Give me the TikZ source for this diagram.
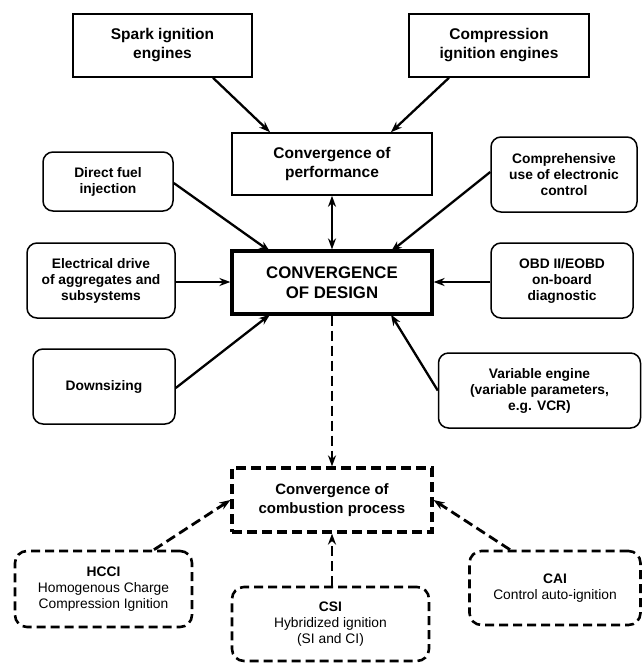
\documentclass[tikz,border=0pt]{standalone}
\usepackage{fontspec}
\setmainfont{Liberation Sans}
\usetikzlibrary{arrows.meta}
\begin{document}
\begin{tikzpicture}[x=1pt,y=-1pt,
  base/.style={draw=black,align=center,inner sep=0pt,text=black},
  sqbox/.style={base,line width=1.6pt,font=\fontsize{15.5}{19}\selectfont\bfseries},
  rbox/.style={base,line width=1.5pt,rounded corners=10pt,font=\fontsize{13.8}{16}\selectfont\bfseries},
  mainbox/.style={base,line width=3.2pt,font=\fontsize{16.8}{20}\selectfont\bfseries},
  dbox/.style={base,line width=3.2pt,dash pattern=on 10pt off 5pt,font=\fontsize{15}{19}\selectfont\bfseries},
  drbox/.style={base,line width=2.6pt,dash pattern=on 9pt off 5pt,rounded corners=12pt,font=\fontsize{13.8}{16}\selectfont},
  tip/.tip={Stealth[length=11pt,width=8pt,inset=3.5pt]},
  arr/.style={line width=2.3pt,-tip},
  darr/.style={line width=2.8pt,dash pattern=on 10pt off 5pt,-tip},
  barr/.style={line width=2.3pt,tip-tip}
]
\useasboundingbox[fill=white] (0,0) rectangle (642,667);

\node[sqbox,minimum width=179pt,minimum height=63pt] (spark) at (162.5,45.5) {Spark ignition\\engines};
\node[sqbox,minimum width=180pt,minimum height=63pt] (comp) at (499,45.5) {Compression\\ignition engines};
\node[sqbox,minimum width=200pt,minimum height=62pt] (perf) at (332,164) {Convergence of\\performance};
\node[rbox,minimum width=130pt,minimum height=59pt] (direct) at (108,181.5) {Direct fuel\\injection};
\node[rbox,minimum width=146pt,minimum height=75pt] (compre) at (564,174.5) {Comprehensive\\use of electronic\\control};
\node[mainbox,minimum width=200pt,minimum height=63pt] (design) at (332,282.5) {CONVERGENCE\\OF DESIGN};
\node[rbox,minimum width=148pt,minimum height=75pt] (elec) at (101,280.5) {Electrical drive\\of aggregates and\\subsystems};
\node[rbox,minimum width=142pt,minimum height=75pt] (obd) at (562,280.5) {OBD II/EOBD\\on-board\\diagnostic};
\node[rbox,minimum width=142pt,minimum height=75pt] (down) at (104,386.5) {Downsizing};
\node[rbox,minimum width=202pt,minimum height=75pt] (var) at (539.5,390.5) {Variable engine\\(variable parameters,\\e.g. VCR)};
\node[dbox,minimum width=200pt,minimum height=64pt] (comb) at (332,500) {Convergence of\\combustion process};
\node[drbox,minimum width=177pt,minimum height=76pt] (hcci) at (103.5,589) {\textbf{HCCI}\\Homogenous Charge\\Compression Ignition};
\node[drbox,minimum width=197pt,minimum height=74pt] (csi) at (330.5,624) {\textbf{CSI}\\Hybridized ignition\\(SI and CI)};
\node[drbox,minimum width=171pt,minimum height=74pt] (cai) at (555,588) {\textbf{CAI}\\Control auto-ignition};

\draw[arr] ([xshift=50.5pt]spark.south) -- ([xshift=-62pt]perf.north);
\draw[arr] ([xshift=-50pt]comp.south) -- ([xshift=59pt]perf.north);
\draw[barr] (perf.south) -- (design.north);
\draw[arr] ([yshift=-1.5pt]direct.east) -- ([xshift=-62pt,yshift=-2pt]design.north);
\draw[arr] ([yshift=2.5pt]compre.west) -- ([xshift=59pt,yshift=-2pt]design.north);
\draw[arr] ([yshift=-1.5pt]elec.east) -- ([yshift=-1.5pt]elec.east -| design.west);
\draw[arr] ([yshift=-1.5pt]obd.west) -- ([yshift=-1.5pt]obd.west -| design.east);
\draw[arr] ([yshift=-1.5pt]down.east) -- ([xshift=-62pt,yshift=1pt]design.south);
\draw[arr] (var.west) -- ([xshift=59pt,yshift=1pt]design.south);
\draw[darr] (design.south) -- (comb.north);
\draw[darr] ([xshift=50.5pt]hcci.north) -- (comb.west);
\draw[darr] ([xshift=1.5pt]csi.north) -- ([xshift=1.5pt]csi.north |- comb.south);
\draw[darr] ([xshift=-45pt]cai.north) -- (comb.east);
\end{tikzpicture}
\end{document}
